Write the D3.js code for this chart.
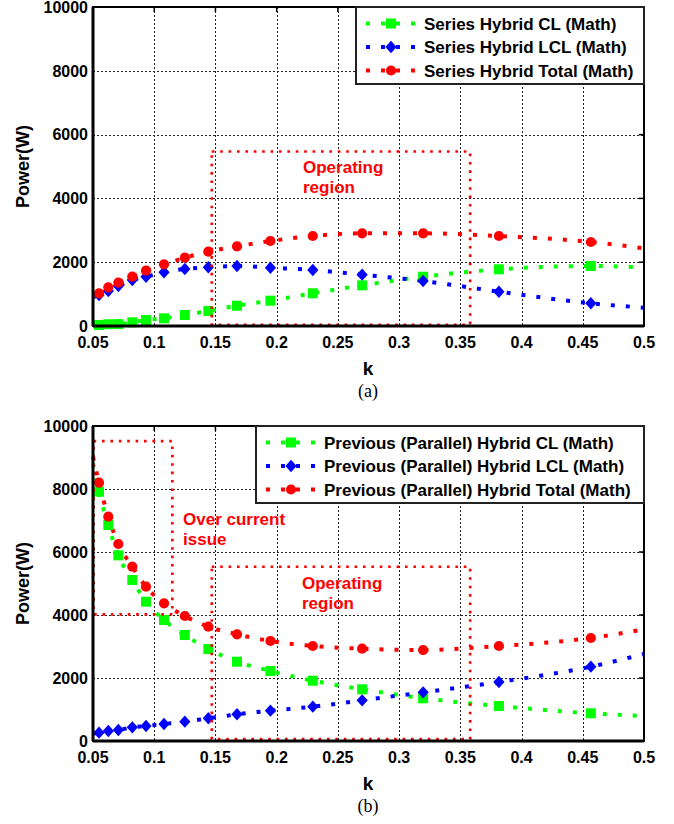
<!DOCTYPE html>
<html>
<head>
<meta charset="utf-8">
<script src="https://cdn.jsdelivr.net/npm/d3@7"></script>
<style>
  html, body { margin: 0; padding: 0; background: #fff; }
  svg { display: block; }
</style>
</head>
<body>
<svg id="fig" width="674" height="824"></svg>
<script>
// ---- data ----
// coupling coefficient k at which the model was evaluated (first/last are the curve ends)
const kValues = [0.05, 0.0549, 0.0625, 0.0707, 0.0821, 0.0933, 0.108, 0.125, 0.1442,
                 0.1676, 0.1949, 0.2295, 0.2698, 0.3196, 0.3815, 0.4566, 0.5];

// (a) series hybrid
const seriesCL    = [20, 30, 55, 60, 116, 188, 241, 345, 470, 636, 793, 1025, 1275, 1545, 1777, 1881, 1840];
const seriesLCL   = [900, 972, 1097, 1254, 1442, 1545, 1683, 1787, 1840, 1881, 1828, 1755, 1609, 1411, 1076, 711, 574];
const seriesTotal = [940, 1025, 1213, 1357, 1545, 1734, 1934, 2141, 2330, 2497, 2665, 2821, 2905, 2905, 2821, 2633, 2435];

// (b) previous (parallel) hybrid
const parallelCL    = [8815, 7915, 6857, 5894, 5111, 4422, 3841, 3365, 2921, 2518, 2222, 1914, 1641, 1356, 1111, 879, 794];
const parallelLCL   = [240, 265, 317, 349, 434, 476, 540, 614, 720, 847, 963, 1090, 1291, 1545, 1873, 2360, 2762];
const parallelTotal = [9026, 8201, 7121, 6254, 5533, 4898, 4371, 3968, 3629, 3387, 3175, 3016, 2930, 2889, 3016, 3270, 3546];

const xTicks = [0.05, 0.1, 0.15, 0.2, 0.25, 0.3, 0.35, 0.4, 0.45, 0.5];
const xTickLabels = ["0.05", "0.1", "0.15", "0.2", "0.25", "0.3", "0.35", "0.4", "0.45", "0.5"];
const yTicks = [0, 2000, 4000, 6000, 8000, 10000];
const yTickLabels = ["0", "2000", "4000", "6000", "8000", "10000"];

const legendSeries = ["Series Hybrid CL (Math)", "Series Hybrid LCL (Math)", "Series Hybrid Total (Math)"];
const legendParallel = ["Previous (Parallel) Hybrid CL (Math)", "Previous (Parallel) Hybrid LCL (Math)", "Previous (Parallel) Hybrid Total (Math)"];

// highlighted regions: [k0, k1, P0, P1] and their captions
const operatingBoxA = [0.147, 0.358, 40, 5470];
const operatingBoxB = [0.147, 0.358, 60, 5530];
const overCurrentBox = [0.0505, 0.1148, 4020, 9520];
const operatingText = ["Operating", "region"];
const overCurrentText = ["Over current", "issue"];

// ---- styling ----
const COLORS = { CL: "#00ff00", LCL: "#0000ff", Total: "#ff0000" };
const SHAPES = { CL: "square", LCL: "diamond", Total: "circle" };
const SANS = "'Liberation Sans', Arial, Helvetica, sans-serif";
const SERIF = "'Liberation Serif', 'Times New Roman', serif";

const svg = d3.select("#fig");
const x = d3.scaleLinear().domain([0.05, 0.5]).range([93, 644]);

function markerPath(shape) {
  if (shape === "square") return "M-5,-5H5V5H-5Z";
  if (shape === "diamond") return "M0,-6.2L5.6,0L0,6.2L-5.6,0Z";
  return d3.symbol(d3.symbolCircle, 82)();
}

function drawPanel(cfg) {
  const g = svg.append("g");
  const y = d3.scaleLinear().domain([0, 10000]).range([cfg.bottom, cfg.top]);
  const [x0, x1] = x.range();

  // grid
  const grid = g.append("g").attr("stroke", "#222").attr("stroke-width", 1)
    .attr("stroke-dasharray", "2,2").attr("shape-rendering", "crispEdges");
  grid.selectAll("line.v").data(xTicks.slice(1, -1)).join("line").attr("class", "v")
    .attr("x1", d => Math.round(x(d)) + 0.5).attr("x2", d => Math.round(x(d)) + 0.5)
    .attr("y1", cfg.top).attr("y2", cfg.bottom);
  grid.selectAll("line.h").data(yTicks.slice(1, -1)).join("line").attr("class", "h")
    .attr("y1", d => Math.round(y(d)) + 0.5).attr("y2", d => Math.round(y(d)) + 0.5)
    .attr("x1", x0).attr("x2", x1);

  // series curves and markers
  const line = d3.line().x((d, i) => x(kValues[i])).y(d => y(d)).curve(d3.curveMonotoneX);
  cfg.series.forEach(s => {
    g.append("path").datum(s.values)
      .attr("d", line)
      .attr("fill", "none")
      .attr("stroke", COLORS[s.key])
      .attr("stroke-width", 4)
      .attr("stroke-dasharray", "4,11");
  });
  cfg.series.forEach(s => {
    g.append("g").selectAll("path")
      .data(s.values.slice(1, -1).map((v, i) => [kValues[i + 1], v]))
      .join("path")
      .attr("d", markerPath(SHAPES[s.key]))
      .attr("transform", d => `translate(${x(d[0])},${y(d[1])})`)
      .attr("fill", COLORS[s.key]);
  });

  // highlighted regions
  cfg.boxes.forEach(b => {
    g.append("rect")
      .attr("x", x(b[0])).attr("y", y(b[3]))
      .attr("width", x(b[1]) - x(b[0])).attr("height", y(b[2]) - y(b[3]))
      .attr("fill", "none").attr("stroke", "#ff0000")
      .attr("stroke-width", 2.6).attr("stroke-dasharray", "2.6,5.8");
  });

  // axes frame and inward ticks
  const frame = g.append("g").attr("stroke", "#000").attr("fill", "none");
  frame.append("rect").attr("x", x0).attr("y", cfg.top)
    .attr("width", x1 - x0).attr("height", cfg.bottom - cfg.top).attr("stroke-width", 2);
  frame.append("line").attr("x1", x0).attr("x2", x0).attr("y1", cfg.top).attr("y2", cfg.bottom)
    .attr("stroke-width", 3);
  frame.append("line").attr("x1", x0).attr("x2", x1).attr("y1", cfg.bottom).attr("y2", cfg.bottom)
    .attr("stroke-width", 3);
  frame.selectAll("line.ty").data(yTicks).join("line").attr("class", "ty")
    .attr("x1", x1 - 5).attr("x2", x1).attr("y1", d => y(d)).attr("y2", d => y(d)).attr("stroke-width", 1.5);
  frame.selectAll("line.tx").data(xTicks).join("line").attr("class", "tx")
    .attr("x1", d => x(d)).attr("x2", d => x(d)).attr("y1", cfg.top).attr("y2", cfg.top + 5).attr("stroke-width", 1.5);

  // tick labels
  g.append("g").selectAll("text").data(xTicks).join("text")
    .attr("x", d => x(d)).attr("y", cfg.bottom + 22)
    .attr("text-anchor", "middle")
    .attr("font-family", SANS).attr("font-weight", "bold").attr("font-size", 16)
    .text((d, i) => xTickLabels[i]);
  g.append("g").selectAll("text").data(yTicks).join("text")
    .attr("x", x0 - 5).attr("y", d => y(d)).attr("dy", "0.36em")
    .attr("text-anchor", "end")
    .attr("font-family", SANS).attr("font-weight", "bold").attr("font-size", 16)
    .text((d, i) => yTickLabels[i]);

  // axis titles and panel caption
  g.append("text")
    .attr("transform", `translate(29,${(cfg.top + cfg.bottom) / 2}) rotate(-90)`)
    .attr("text-anchor", "middle")
    .attr("font-family", SANS).attr("font-weight", "bold").attr("font-size", 18)
    .text("Power(W)");
  g.append("text")
    .attr("x", 368).attr("y", cfg.bottom + 49)
    .attr("text-anchor", "middle")
    .attr("font-family", SANS).attr("font-weight", "bold").attr("font-size", 19)
    .text("k");
  g.append("text")
    .attr("x", 368).attr("y", cfg.bottom + 71)
    .attr("text-anchor", "middle")
    .attr("font-family", SERIF).attr("font-size", 18)
    .text(cfg.caption);

  // region captions
  cfg.notes.forEach(n => {
    g.append("text")
      .attr("font-family", SANS).attr("font-weight", "bold").attr("font-size", 17)
      .attr("fill", "#ff0000")
      .selectAll("tspan").data(n.lines).join("tspan")
      .attr("x", n.x).attr("y", (d, i) => n.y + i * 20)
      .text(d => d);
  });

  // legend
  const lg = g.append("g").attr("transform", `translate(${cfg.legend.x},${cfg.legend.y})`);
  lg.append("rect").attr("x", 0).attr("y", 0)
    .attr("width", x1 - cfg.legend.x).attr("height", 77)
    .attr("fill", "#fff").attr("stroke", "#222").attr("stroke-width", 2);
  cfg.series.forEach((s, i) => {
    const cy = 16.5 + i * 23.5;
    const row = lg.append("g").attr("transform", `translate(0,${cy})`);
    row.append("line").attr("x1", 10).attr("x2", 62).attr("y1", 0).attr("y2", 0)
      .attr("stroke", COLORS[s.key]).attr("stroke-width", 4).attr("stroke-dasharray", "4,11");
    row.append("path").attr("d", markerPath(SHAPES[s.key]))
      .attr("transform", "translate(35,0)").attr("fill", COLORS[s.key]);
    row.append("text").attr("x", 68).attr("y", 0).attr("dy", "0.36em")
      .attr("font-family", SANS).attr("font-weight", "bold").attr("font-size", 17)
      .text(cfg.labels[i]);
  });
}

drawPanel({
  top: 7, bottom: 326, caption: "(a)",
  series: [
    { key: "CL", values: seriesCL },
    { key: "LCL", values: seriesLCL },
    { key: "Total", values: seriesTotal }
  ],
  labels: legendSeries,
  legend: { x: 356, y: 7 },
  boxes: [operatingBoxA],
  notes: [{ x: 303, y: 173, lines: operatingText }]
});

drawPanel({
  top: 426, bottom: 741, caption: "(b)",
  series: [
    { key: "CL", values: parallelCL },
    { key: "LCL", values: parallelLCL },
    { key: "Total", values: parallelTotal }
  ],
  labels: legendParallel,
  legend: { x: 256, y: 426 },
  boxes: [overCurrentBox, operatingBoxB],
  notes: [{ x: 302, y: 589, lines: operatingText }, { x: 183, y: 525, lines: overCurrentText }]
});
</script>
</body>
</html>
